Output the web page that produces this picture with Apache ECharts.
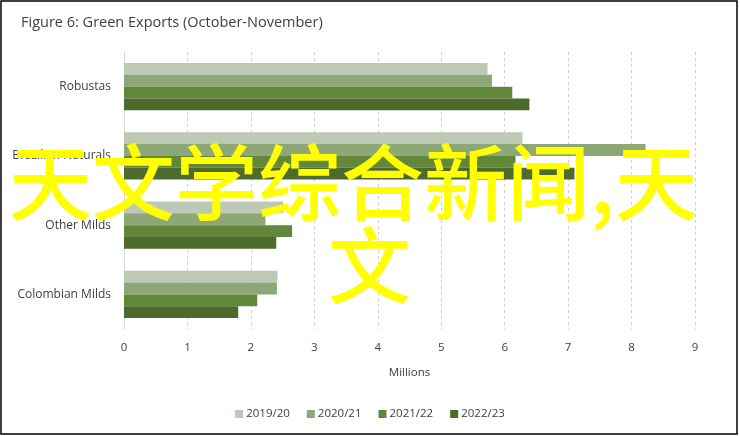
<!DOCTYPE html>
<html>
<head>
<meta charset="utf-8">
<script src="https://cdn.jsdelivr.net/npm/echarts@6/dist/echarts.min.js"></script>
<style>
html,body{margin:0;padding:0;background:#fff;}
#chart{width:740px;height:436px;}
</style>
</head>
<body>
<div id="chart"></div>
<script>
const categories = ['Robustas', 'Brazilian Naturals', 'Other Milds', 'Colombian Milds'];
const seriesNames = ['2019/20', '2020/21', '2021/22', '2022/23'];
const v2019 = [5.73, 6.28, 2.51, 2.42];
const v2020 = [5.80, 8.22, 2.23, 2.41];
const v2021 = [6.12, 6.17, 2.65, 2.10];
const v2022 = [6.39, 7.10, 2.40, 1.80];
const xTicks = [0, 1, 2, 3, 4, 5, 6, 7, 8, 9];
const colors = ['#bdc9b4', '#8da776', '#62873a', '#4e6b2e'];
const overlayLine1 = '天文学综合新闻,天';
const overlayLine2 = '文';

const values = [v2019, v2020, v2021, v2022];
const font = '"Open Sans", sans-serif';

const chart = echarts.init(document.getElementById('chart'));
chart.setOption({
  animation: false,
  color: colors,
  title: {
    text: 'Figure 6: Green Exports (October-November)',
    left: 16, top: 10,
    textStyle: { fontFamily: font, fontSize: 14.5, fontWeight: 'normal', color: '#404040' }
  },
  grid: { left: 124, right: 45, top: 52, bottom: 107 },
  legend: {
    data: seriesNames,
    bottom: 11,
    left: 'center',
    itemWidth: 8, itemHeight: 8, itemGap: 17,
    icon: 'rect',
    textStyle: { fontFamily: font, fontSize: 11.5, color: '#404040', padding: [0, 0, 0, -2] }
  },
  xAxis: {
    type: 'value',
    min: xTicks[0], max: xTicks[xTicks.length - 1], interval: 1,
    name: 'Millions', nameLocation: 'middle', nameGap: 38,
    nameTextStyle: { fontFamily: font, fontSize: 11.5, color: '#404040' },
    axisLine: { show: false }, axisTick: { show: false },
    axisLabel: { fontFamily: font, fontSize: 11.5, color: '#404040', margin: 13 },
    splitLine: { show: true, lineStyle: { type: [3, 3], color: '#d0d0d0', width: 1 } }
  },
  yAxis: {
    type: 'category', data: categories, inverse: true,
    axisLine: { show: true, lineStyle: { color: '#d9d9d9', width: 1 } },
    axisTick: { show: false },
    axisLabel: { fontFamily: font, fontSize: 12, color: '#404040', margin: 13 }
  },
  series: seriesNames.map((n, i) => ({
    name: n, type: 'bar', data: values[i],
    barGap: '0%', barCategoryGap: '32%',
    itemStyle: { color: colors[i] }
  })),
  graphic: [
    { type: 'rect', shape: { x: 1, y: 1, width: 736, height: 433 },
      style: { fill: 'none', stroke: '#000', lineWidth: 1.5 }, z: 100 },
    { type: 'text', left: 9, top: 141, z: 101,
      style: { text: overlayLine1, fill: '#ffff00',
        font: '500 83px "Noto Sans CJK SC"' } },
    { type: 'text', left: 328, top: 224, z: 101,
      style: { text: overlayLine2, fill: '#ffff00',
        font: '500 83px "Noto Sans CJK SC"' } }
  ]
});
</script>
</body>
</html>
